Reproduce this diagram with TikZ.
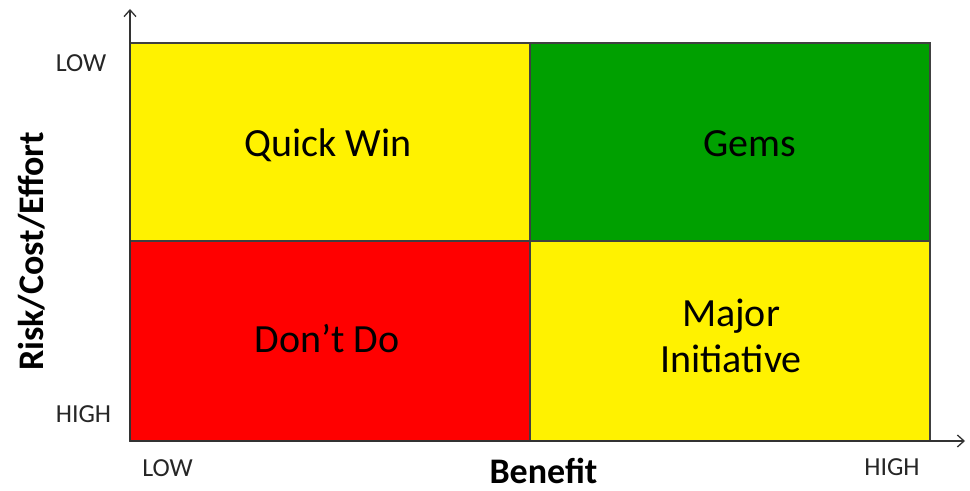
\documentclass[tikz,border=0pt]{standalone}
\usepackage{fontspec}
\setmainfont{Carlito}
\usetikzlibrary{arrows.meta}

\definecolor{gemgreen}{RGB}{0,160,0}
\tikzset{
	quad/.style={draw=black!75, line width=0.3mm},
	quadtext/.style={anchor=base, align=center, font=\fontsize{30}{35}\selectfont},
	tick/.style={anchor=base, font=\fontsize{19.5}{22}\selectfont, text=black!85},
	axtitle/.style={anchor=base, inner sep=1pt, font=\fontsize{27}{30}\selectfont\bfseries},
	axis/.style={line width=0.35mm, color=black!80, -{Straight Barb[length=5pt, width=9pt]}}
}

\begin{document}
\begin{tikzpicture}[x=0.75pt, y=0.75pt]
			%%%%% START %%%%%
			
			\useasboundingbox (0, 0) rectangle (970, 491);
			
			\draw[quad, fill=yellow] (130, 250) rectangle (530, 448);
			\draw[quad, fill=gemgreen] (530, 250) rectangle (930, 448);
			\draw[quad, fill=red] (130, 50) rectangle (530, 250);
			\draw[quad, fill=yellow] (530, 50) rectangle (930, 250);
			
			\node[quadtext] (quick) at (328, 334) {Quick Win};
			\node[quadtext] (gems) at (750, 334) {Gems};
			\node[quadtext] (dont) at (327, 138) {Don’t Do};
			\node[quadtext] (major) at (731, 118) {Major\\Initiative};
			
			\coordinate (origin) at (130, 50);
			\coordinate (ytip) at (130, 482);
			\coordinate (xtip) at (965, 50);
			
			\draw[axis] (origin) -- (ytip);
			\draw[axis] (origin) -- (xtip);
			
			\node[tick] (ylow) at (81, 419) {LOW};
			\node[tick] (yhigh) at (83.5, 68) {HIGH};
			\node[tick] (xlow) at (167.5, 14) {LOW};
			\node[tick] (xhigh) at (892, 15) {HIGH};
			
			\node[axtitle] (benefit) at (543.5, 7.5) {Benefit};
			\node[axtitle, rotate=90] (risk) at (43, 239.5) {Risk/Cost/Effort};
			
			%%%%% END %%%%%
\end{tikzpicture}
\end{document}
